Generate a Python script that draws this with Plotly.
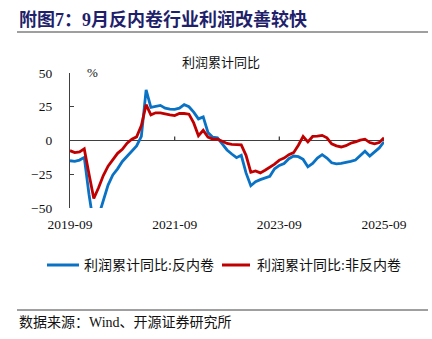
import plotly.graph_objects as go

# Monthly cumulative readings (Jan is folded into the Jan-Feb release, so no January points)
def month_list(start_year, start_month, end_year, end_month):
    out = []
    y, m = start_year, start_month
    while (y, m) <= (end_year, end_month):
        if m != 1:
            out.append(f"{y}-{m:02d}")
        m += 1
        if m > 12:
            y, m = y + 1, 1
    return out

months = month_list(2019, 9, 2025, 9)

# 利润累计同比:反内卷 (%)
anti_involution = [
    -15, -15.5, -14.5, -12.5,
    -40, -63, -56, -45, -33, -25.5, -21, -15.5, -11.5, -8, -4,
    3, 37.5, 24.5, 25, 26, 24, 23.2, 23, 24, 26.5, 25,
    21, 16, 17.5, 6, 2.5, 2, -2.5, -7, -10, -12.7, -11,
    -24, -33.5, -30.5, -29, -28, -26.5, -21, -18.5, -17, -13.5, -11.5,
    -12, -14, -19.5, -17, -13, -10.5, -13, -16.5, -17.3, -17, -16.5,
    -15.5, -14.5, -11, -8, -11.5, -8.5, -5.5, -1,
]

# 利润累计同比:非反内卷 (%)
non_anti_involution = [
    -7.5, -9, -8.5, -6.2,
    -25, -43, -35, -26, -19, -14, -9.5, -6.5, -2, 1, 2.7,
    11, 26.5, 19, 20.5, 20.5, 19.5, 19, 18.5, 20, 20, 19.5,
    13, 3.5, 7.5, 2.5, 1, 1, -0.5, -2.2, -2.8, -3.2, -3.2,
    -11, -23.5, -22.5, -24, -22, -20, -17.5, -14.5, -13, -10.5, -9,
    -3.5, 3, -1, 3, 3.2, 3.8, 2, -2.5, -4, -4.8, -3.8,
    -2, -1, 0.3, 1, -1.5, -2.5, -1.5, 2,
]

series_names = ["利润累计同比:反内卷", "利润累计同比:非反内卷"]
series_colors = ["#0A72C4", "#C00000"]

tick_labels = ["2019-09", "2021-09", "2023-09", "2025-09"]
y_ticks = [50, 25, 0, -25, -50]

x_idx = list(range(len(months)))
tick_pos = [months.index(t) for t in tick_labels]

FONT = "Liberation Serif, Noto Sans CJK SC, serif"
AXIS_COLOR = "#404040"
TEXT_COLOR = "#111111"

# plot area in pixels: left 70, width 314, top 73, height 135
PW, PH = 314, 135


def px_x(x):
    return (x - 70) / PW


def px_y(y):
    return (208 - y) / PH


fig = go.Figure()
for vals, name, color in zip([anti_involution, non_anti_involution], series_names, series_colors):
    fig.add_trace(go.Scatter(
        x=x_idx, y=vals, mode="lines", name=name,
        line=dict(color=color, width=2.8), showlegend=False,
    ))

fig.update_layout(
    width=432, height=339,
    margin=dict(l=70, r=48, t=73, b=131),
    paper_bgcolor="white", plot_bgcolor="white",
    font=dict(family=FONT, color=TEXT_COLOR, size=13),
    showlegend=False,
    xaxis=dict(
        range=[0, len(months) - 1],
        tickvals=tick_pos, ticktext=tick_labels,
        showgrid=False, zeroline=False, showline=False, ticks="",
        tickfont=dict(family=FONT, size=13.5, color=TEXT_COLOR),
        ticklabelstandoff=6,
    ),
    yaxis=dict(
        range=[-50, 50], tickvals=y_ticks,
        showgrid=False, showline=True, linecolor=AXIS_COLOR, linewidth=1.3,
        ticks="inside", ticklen=4, tickcolor=AXIS_COLOR, tickwidth=1.3,
        zeroline=True, zerolinecolor=AXIS_COLOR, zerolinewidth=1.3,
        tickfont=dict(family=FONT, size=13.5, color=TEXT_COLOR),
        ticklabelstandoff=14,
    ),
)

# small upward tick marks on the zero line at the dated ticks
for p in tick_pos[1:-1]:
    fig.add_shape(type="line", xref="x", yref="y", x0=p, x1=p, y0=0, y1=3,
                  line=dict(color=AXIS_COLOR, width=1.3), layer="below")

# legend: line swatch followed by the series name
legend_items = [(47, 79, 82), (222, 250, 255)]
for (lx0, lx1, tx), name, color in zip(legend_items, series_names, series_colors):
    fig.add_shape(type="line", xref="paper", yref="paper",
                  x0=px_x(lx0), x1=px_x(lx1), y0=px_y(265), y1=px_y(265),
                  line=dict(color=color, width=3))
    fig.add_annotation(
        text=name, xref="paper", yref="paper", x=px_x(tx), y=px_y(265),
        xanchor="left", yanchor="middle", showarrow=False,
        font=dict(family=FONT, size=14, color=TEXT_COLOR),
    )

# header rule and footer rule
fig.add_shape(type="line", xref="paper", yref="paper",
              x0=px_x(17), x1=px_x(428), y0=px_y(32), y1=px_y(32),
              line=dict(color="#7F7F7F", width=1.6))
fig.add_shape(type="line", xref="paper", yref="paper",
              x0=px_x(17), x1=px_x(428), y0=px_y(310), y1=px_y(310),
              line=dict(color="#404040", width=1))

fig.add_annotation(
    text="<b>附图7：9月反内卷行业利润改善较快</b>",
    xref="paper", yref="paper", x=px_x(17), y=px_y(19),
    xanchor="left", yanchor="middle", showarrow=False,
    font=dict(family=FONT, size=18, color="#1F1F6B"),
)
fig.add_annotation(
    text="利润累计同比", xref="paper", yref="paper",
    x=px_x(221), y=px_y(63), xanchor="center", yanchor="middle",
    showarrow=False, font=dict(family=FONT, size=13, color=TEXT_COLOR),
)
fig.add_annotation(
    text="%", xref="paper", yref="paper",
    x=px_x(92), y=px_y(72), xanchor="center", yanchor="middle",
    showarrow=False, font=dict(family=FONT, size=13, color=TEXT_COLOR),
)
fig.add_annotation(
    text="数据来源：Wind、开源证券研究所", xref="paper", yref="paper",
    x=px_x(17), y=px_y(322), xanchor="left", yanchor="middle",
    showarrow=False, font=dict(family=FONT, size=14, color=TEXT_COLOR),
)

fig.write_html("out.html")
